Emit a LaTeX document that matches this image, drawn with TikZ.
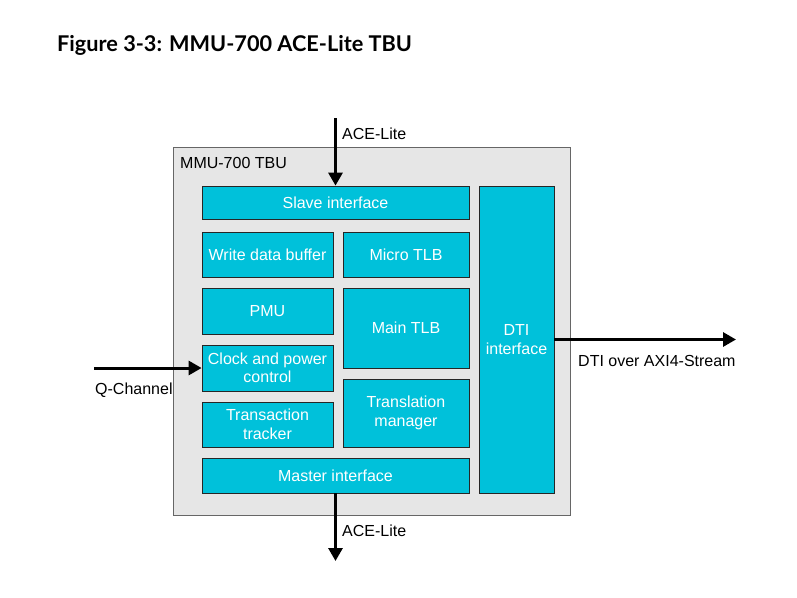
\documentclass[tikz,border=0pt]{standalone}
\usepackage{fontspec}
\setmainfont{Liberation Sans}
\newfontfamily\titlefont{Lato}
\usetikzlibrary{arrows.meta, positioning, shadows}
\definecolor{tbucyan}{RGB}{0,193,218}
\definecolor{tbugray}{RGB}{230,230,230}
\tikzstyle{block} = [rectangle, draw=black!85, fill=tbucyan, line width=.8pt, text=white, align=center, font=\fontsize{16}{18.5}\selectfont, inner sep=0pt, drop shadow={shadow xshift=1.2pt, shadow yshift=-1.2pt, fill=black!45, opacity=1}]
\tikzstyle{arrow} = [line width=3pt, -{Triangle[length=13pt,width=14pt]}]
\tikzstyle{lbl} = [font=\fontsize{16}{18.5}\selectfont, inner sep=0pt, anchor=west]

\begin{document}
\begin{tikzpicture}[x=1pt, y=-1pt]
\useasboundingbox (0,0) rectangle (797,597);
% title
\node[anchor=west, inner sep=0pt, font=\titlefont\bfseries\fontsize{21.7}{24}\selectfont] (title) at (57,45) {Figure 3-3: MMU-700 ACE-Lite TBU};

% outer box
\node[rectangle, draw=black!60, fill=tbugray, line width=1pt, minimum width=397pt, minimum height=368pt, inner sep=0pt] (tbu) at (371.5,331) {};
\node[lbl] (tbulabel) at (180,163) {MMU-700 TBU};

% blocks
\node[block, minimum width=267pt, minimum height=33pt] (slave) at (335.5,202.5) {Slave interface};
\node[block, minimum width=131pt, minimum height=45pt] (wdb) at (267.5,254.5) {Write data buffer};
\node[block, minimum width=126pt, minimum height=45pt] (microtlb) at (406,254.5) {Micro TLB};
\node[block, minimum width=131pt, minimum height=46pt] (pmu) at (267.5,311) {PMU};
\node[block, minimum width=126pt, minimum height=80pt] (maintlb) at (406,328) {Main TLB};
\node[block, minimum width=131pt, minimum height=46pt] (clock) at (267.5,368) {Clock and power\\control};
\node[block, minimum width=131pt, minimum height=45pt] (tracker) at (267.5,424.5) {Transaction\\tracker};
\node[block, minimum width=126pt, minimum height=68pt] (transmgr) at (406,413) {Translation\\manager};
\node[block, minimum width=267pt, minimum height=35pt] (master) at (335.5,475.5) {Master interface};
\node[block, minimum width=75pt, minimum height=307pt] (dti) at (516.5,339.5) {DTI\\interface};

% ends of the arrows
\coordinate (acein) at (335.5,118);
\coordinate (aceout) at (335.5,561);
\coordinate (qin) at (94,368);
\coordinate (dtiout) at (736,339.5);

% arrows
\draw[arrow] (acein) -- (slave.north);
\draw[arrow] (master.south) -- (aceout);
\draw[arrow] (qin) -- (clock.west);
\draw[arrow] (dti.east) -- (dtiout);

% labels
\node[lbl] (acelabelin) at (342,134) {ACE-Lite};
\node[lbl] (acelabelout) at (342,531) {ACE-Lite};
\node[lbl] (qlabel) at (95,390) {Q-Channel};
\node[lbl] (dtilabel) at (578,361) {DTI over AXI4-Stream};
\end{tikzpicture}
\end{document}
